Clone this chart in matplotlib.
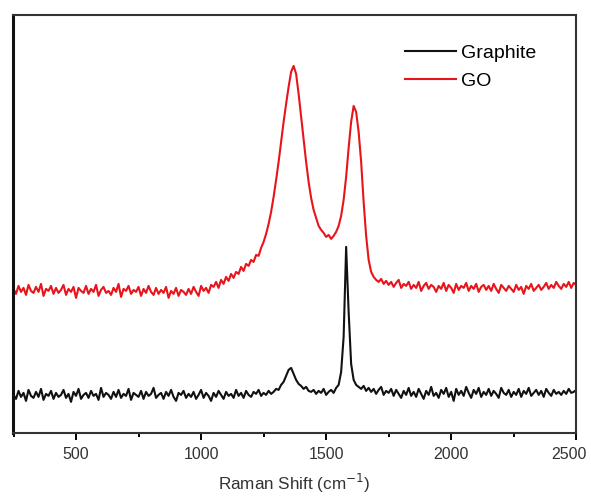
import numpy as np
import matplotlib
matplotlib.use("Agg")
import matplotlib.pyplot as plt
import matplotlib.transforms as mtransforms
from matplotlib.ticker import MultipleLocator

plt.rcParams['font.family'] = ['Liberation Sans', 'DejaVu Sans']

# Raman shift grid (cm^-1), one sample every 10 cm^-1
shift = np.arange(250, 2501, 10)

# GO spectrum (arb. units, offset)
go = [
    143, 138, 146, 140, 144, 137, 147, 141, 139, 145,
    140, 148, 136, 143, 141, 146, 138, 144, 139, 142,
    147, 137, 143, 140, 145, 134, 144, 141, 139, 146,
    138, 143, 140, 147, 136, 142, 145, 139, 141, 137,
    144, 140, 148, 135, 143, 141, 146, 138, 142, 140,
    145, 136, 143, 139, 146, 140, 137, 144, 138, 142,
    139, 145, 134, 141, 138, 144, 136, 142, 140, 137,
    143, 138, 145, 140, 136, 146, 141, 144, 139, 147,
    145, 150, 144, 152, 148, 155, 151, 158, 154, 160,
    158, 165, 161, 168, 166, 172, 170, 177, 176, 184,
    190, 198, 208, 220, 235, 252, 270, 290, 310, 328,
    345, 360, 366, 358, 338, 315, 292, 270, 250, 234,
    222, 214, 206, 202, 199, 195, 197, 193, 196, 200,
    206, 216, 232, 255, 284, 310, 326, 320, 300, 270,
    230, 196, 172, 160, 155, 152, 150, 153, 148, 151,
    147, 150, 145, 149, 152, 144, 148, 146, 150, 143,
    147, 144, 150, 141, 146, 149, 143, 147, 145, 140,
    146, 143, 149, 141, 147, 144, 139, 148, 142, 146,
    144, 149, 141, 146, 143, 148, 140, 145, 147, 142,
    146, 141, 148, 143, 139, 147, 144, 141, 146, 143,
    140, 147, 142, 145, 138, 146, 143, 148, 141, 144,
    147, 142, 145, 149, 143, 147, 144, 150, 146, 143,
    148, 145, 150, 144, 149, 147,
]

# Graphite spectrum (arb. units)
graphite = [
    37, 33, 41, 35, 39, 31, 42, 36, 34, 40,
    35, 43, 32, 38, 36, 41, 33, 39, 35, 37,
    42, 34, 38, 30, 40, 36, 43, 33, 37, 39,
    34, 41, 36, 38, 32, 44, 35, 39, 37, 33,
    40, 35, 42, 34, 38, 36, 43, 32, 39, 37,
    35, 41, 33, 40, 36, 38, 44, 34, 37, 39,
    33, 40, 36, 42, 35, 31, 39, 37, 41, 34,
    38, 35, 40, 33, 37, 42, 34, 39, 36, 31,
    39, 35, 41, 37, 33, 40, 36, 38, 34, 42,
    36, 39, 34, 41, 37, 35, 40, 38, 42, 36,
    39, 37, 41, 38, 40, 43, 42, 47, 50, 56,
    62, 64, 58, 52, 48, 46, 43, 45, 41, 40,
    42, 38, 41, 39, 43, 37, 40, 42, 39, 44,
    47, 60, 95, 185, 120, 68, 52, 47, 45, 43,
    46, 41, 44, 40, 43, 38, 42, 45, 37, 41,
    39, 43, 36, 42, 38, 34, 41, 37, 44, 36,
    40, 35, 43, 38, 33, 41, 37, 45, 36, 39,
    34, 42, 38, 44, 35, 40, 31, 43, 37, 41,
    36, 45, 39, 34, 42, 38, 44, 35, 40, 37,
    43, 36, 41, 38, 34, 44, 39, 37, 42, 35,
    40, 37, 43, 35, 41, 38, 44, 36, 39, 42,
    37, 41, 35, 43, 39, 36, 42, 38, 40, 37,
    41, 38, 43, 39, 40, 42,
]

xticks = [500, 1000, 1500, 2000, 2500]

fig = plt.figure(figsize=(5.91, 4.97), dpi=100)
ax = fig.add_axes([0.022, 0.129, 0.953, 0.841])

ax.plot(shift, graphite, color='#111111', lw=1.5, label='Graphite')
ax.plot(shift, go, color='#e8141c', lw=1.5, label='GO')

ax.set_xlim(248, 2500)
ax.set_ylim(-1, 417)
ax.set_xticks(xticks)
ax.xaxis.set_minor_locator(MultipleLocator(250))
ax.set_yticks([])
ax.tick_params(axis='x', which='major', direction='out', length=5, width=1.4,
               labelsize=11.5, labelcolor='#333333', pad=5)
ax.tick_params(axis='x', which='minor', direction='out', length=3, width=1.4)

# nudge the last tick label so it stays inside the figure
last = ax.get_xticklabels()[-1]
last.set_transform(last.get_transform() +
                   mtransforms.ScaledTranslation(-5 / 72, 0, fig.dpi_scale_trans))

for side in ['top', 'right', 'bottom']:
    ax.spines[side].set_linewidth(1.5)
    ax.spines[side].set_color('#333333')
ax.spines['left'].set_linewidth(2.2)
ax.spines['left'].set_color('#111111')

ax.set_xlabel('Raman Shift (cm$^{-1}$)', fontsize=12.3, color='#333333', labelpad=7)

ax.legend(loc='upper left', bbox_to_anchor=(0.696, 0.93), frameon=False,
          borderpad=0, borderaxespad=0, fontsize=14, handlelength=2.6,
          handletextpad=0.3, labelspacing=0.55)

fig.savefig('out.png', dpi=100)
